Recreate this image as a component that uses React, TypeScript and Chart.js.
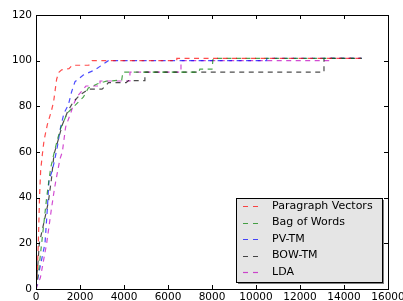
import React, { useEffect, useRef } from 'react';
import { Chart, registerables } from 'chart.js';

Chart.register(...registerables);

const seriesNames = ['Paragraph Vectors', 'Bag of Words', 'PV-TM', 'BOW-TM', 'LDA'];
const seriesColors = [
  'rgba(255,0,0,0.7)',
  'rgba(0,128,0,0.7)',
  'rgba(0,0,255,0.7)',
  'rgba(0,0,0,0.7)',
  'rgba(191,0,191,0.7)',
];

const xMin = 0;
const xMax = 16000;
const xStep = 2000;
const yMin = 0;
const yMax = 120;
const yStep = 20;

const pvX = [0, 60, 106, 160, 212, 290, 364, 515, 700, 800, 940, 1050, 1168, 1500, 1650, 2400, 2550, 6400, 6400, 14800];
const pvY = [0, 8, 20, 40, 52, 59, 65, 72, 78, 82, 92, 95, 96, 96.5, 98, 98, 100, 100, 101, 101];

const bowX = [0, 120, 257, 485, 590, 667, 818, 970, 1121, 1424, 1620, 2150, 2380, 2830, 3200, 3895, 3950, 7400, 7450, 8000, 8050, 14800];
const bowY = [0, 8, 20, 40, 47.7, 53, 59.4, 65.3, 70.4, 77, 79, 84, 88, 90, 91, 91.5, 95, 95, 96.3, 96.3, 101, 101];

const pvtmX = [0, 150, 409, 515, 590, 742, 848, 970, 1121, 1273, 1470, 1620, 1773, 2150, 2680, 2985, 3290, 10485, 10485, 14800];
const pvtmY = [0, 8, 20, 35, 47.7, 52, 56.5, 62.3, 71, 77, 80.6, 86.4, 90.8, 93.7, 96, 98, 100, 100, 101, 101];

const bowtmX = [0, 80, 151, 380, 560, 700, 818, 1000, 1200, 1450, 1700, 2000, 2380, 3000, 3210, 3290, 4100, 4200, 4950, 4950, 13090, 13090, 14800];
const bowtmY = [2, 10, 20, 30, 38, 48, 59, 65, 72, 78, 82, 85, 87.5, 87.5, 89.4, 90.4, 90.4, 91.3, 91.3, 95, 95, 101, 101];

const ldaX = [0, 200, 485, 700, 818, 894, 1090, 1197, 1348, 1575, 1697, 1848, 2270, 2910, 2910, 4270, 4270, 6590, 6590, 13440, 13440, 14800];
const ldaY = [0, 5, 20, 35, 42.6, 47, 57, 60, 71, 77, 80.6, 84, 88.9, 88.9, 91.1, 91.1, 95, 95, 100, 100, 101, 101];

const seriesX = [pvX, bowX, pvtmX, bowtmX, ldaX];
const seriesY = [pvY, bowY, pvtmY, bowtmY, ldaY];

const FONT = '"DejaVu Sans", sans-serif';

const framePlugin = {
  id: 'frameTicks',
  afterDraw(chart: any) {
    const { ctx, chartArea } = chart;
    const { left, right, top, bottom } = chartArea;
    const xs = chart.scales.x;
    const ys = chart.scales.y;
    ctx.save();
    ctx.strokeStyle = '#000';
    ctx.lineWidth = 1;
    ctx.strokeRect(Math.round(left) + 0.5, Math.round(top) + 0.5, Math.round(right - left), Math.round(bottom - top));
    const tl = 4;
    ctx.beginPath();
    for (let v = xMin; v <= xMax; v += xStep) {
      const px = Math.round(xs.getPixelForValue(v)) + 0.5;
      ctx.moveTo(px, bottom);
      ctx.lineTo(px, bottom - tl);
      ctx.moveTo(px, top);
      ctx.lineTo(px, top + tl);
    }
    for (let v = yMin; v <= yMax; v += yStep) {
      const py = Math.round(ys.getPixelForValue(v)) + 0.5;
      ctx.moveTo(left, py);
      ctx.lineTo(left + tl, py);
      ctx.moveTo(right, py);
      ctx.lineTo(right - tl, py);
    }
    ctx.stroke();

    // legend
    const bx = 236, by = 198, bw = 146, bh = 84;
    ctx.fillStyle = 'rgba(0,0,0,0.5)';
    ctx.fillRect(bx + 2, by + 2, bw, bh);
    ctx.fillStyle = '#e5e5e5';
    ctx.fillRect(bx, by, bw, bh);
    ctx.strokeStyle = '#000';
    ctx.strokeRect(bx + 0.5, by + 0.5, bw, bh);
    ctx.font = '11px ' + FONT;
    ctx.textBaseline = 'middle';
    ctx.textAlign = 'left';
    for (let i = 0; i < seriesNames.length; i++) {
      const cy = 206 + i * 16.5;
      ctx.strokeStyle = seriesColors[i];
      ctx.lineWidth = 1.2;
      ctx.setLineDash([5, 5]);
      ctx.beginPath();
      ctx.moveTo(243, Math.round(cy) + 0.5);
      ctx.lineTo(258, Math.round(cy) + 0.5);
      ctx.stroke();
      ctx.setLineDash([]);
      ctx.fillStyle = '#000';
      ctx.fillText(seriesNames[i], 272, cy);
    }
    ctx.restore();
  },
};

export default function App() {
  const ref = useRef<HTMLCanvasElement | null>(null);
  useEffect(() => {
    document.body.style.margin = '0';
    const canvas = ref.current;
    if (!canvas) return;
    const datasets = seriesNames.map((name, i) => ({
      label: name,
      data: seriesX[i].map((x, j) => ({ x, y: seriesY[i][j] })),
      borderColor: seriesColors[i],
      backgroundColor: seriesColors[i],
      borderWidth: 1.2,
      borderDash: [5, 4.5],
      pointRadius: 0,
      fill: false,
      tension: 0,
    }));
    const chart = new Chart(canvas, {
      type: 'line',
      data: { datasets },
      options: {
        animation: false,
        responsive: false,
        maintainAspectRatio: false,
        layout: { padding: { left: 0, right: 15, top: 15, bottom: 0 } },
        plugins: { legend: { display: false }, tooltip: { enabled: false } },
        scales: {
          x: {
            type: 'linear',
            min: xMin,
            max: xMax,
            grid: { display: false, drawTicks: false },
            border: { display: false },
            ticks: {
              stepSize: xStep,
              color: '#000',
              padding: 2,
              maxRotation: 0,
              font: { family: FONT, size: 10.5 },
              callback: (v: any) => String(v),
            },
            afterFit: (s: any) => {
              s.height = 12;
              s.paddingLeft = 0;
              s.paddingRight = 0;
            },
          },
          y: {
            type: 'linear',
            min: yMin,
            max: yMax,
            grid: { display: false, drawTicks: false },
            border: { display: false },
            ticks: {
              stepSize: yStep,
              color: '#000',
              padding: 4,
              font: { family: FONT, size: 10.5 },
              callback: (v: any) => String(v),
            },
            afterFit: (s: any) => {
              s.width = 36;
              s.paddingTop = 0;
              s.paddingBottom = 0;
            },
          },
        },
      },
      plugins: [framePlugin],
    });
    return () => chart.destroy();
  }, []);
  return <canvas ref={ref} width={403} height={301} style={{ display: 'block' }} />;
}
